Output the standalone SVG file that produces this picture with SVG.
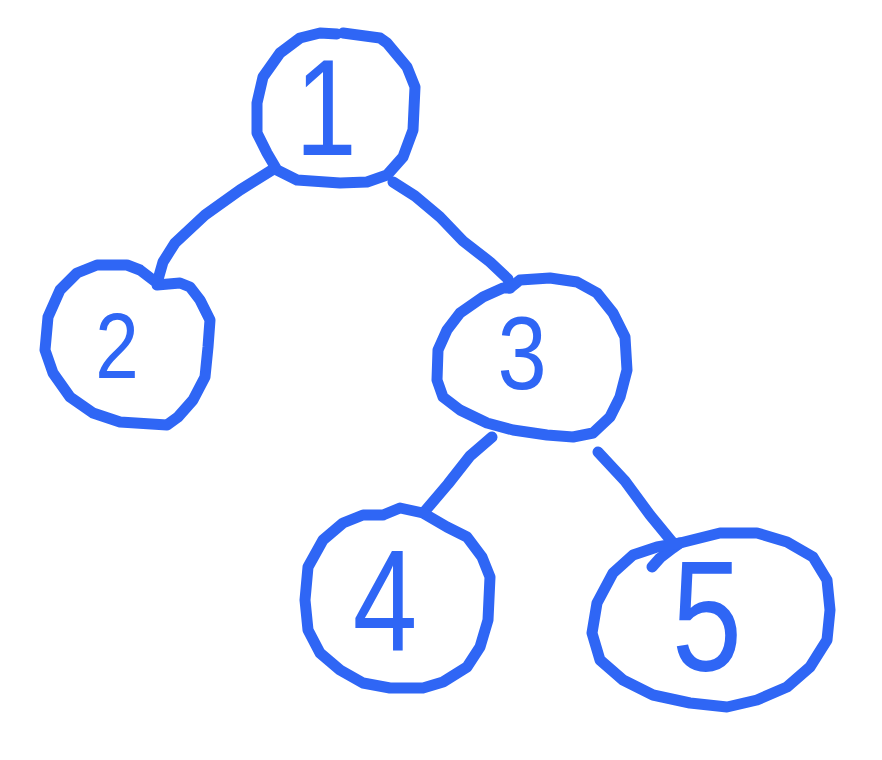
<svg xmlns="http://www.w3.org/2000/svg" width="882" height="760" viewBox="0 0 882 760">
<style>
.s{fill:none;stroke:#2f66f5;stroke-width:11;stroke-linecap:round;stroke-linejoin:round}
.t{fill:#2f66f5;font-family:"Liberation Sans",Arial,sans-serif;text-anchor:middle}
</style>
<rect width="882" height="760" fill="#ffffff"/>
<g id="connectors">
<polyline class="s" points="272,170 240,190 205,215 175,243 163,262 157,283"/>
<polyline class="s" points="393,182 415,196 440,217 463,241 490,262 508,279 510,288"/>
<polyline class="s" points="492,437 470,456 448,484 425,511"/>
<polyline class="s" points="598,452 625,481 650,515 673,543"/>
<polyline class="s" points="652,567 660,558 673,548 680,543"/>
</g>
<g id="node1">
<polyline class="s" points="337,34 320,33 300,38 280,53 263,77 257,103 257,133 267,153 277,170 297,180 340,183 367,182 387,175 403,157 413,130 415,87 407,67 387,43 380,38 343,33"/>
<text class="t" transform="translate(326,0) scale(0.8,1)" x="0" y="155" font-size="138">1</text>
</g>
<g id="node2">
<polyline class="s" points="157,283 140,270 127,265 97,265 77,273 60,290 48,317 45,350 53,373 70,397 93,413 120,422 167,425 178,417 193,400 205,377 208,347 210,320 200,300 190,287 180,283 157,285"/>
<text class="t" transform="translate(117,0) scale(0.85,1)" x="0" y="378" font-size="92">2</text>
</g>
<g id="node3">
<polyline class="s" points="510,288 520,280 550,278 577,282 597,293 613,313 625,337 627,370 620,397 610,417 593,433 573,437 547,435 513,430 487,423 460,410 443,397 437,380 438,350 447,330 460,313 483,297 503,288 510,288"/>
<text class="t" transform="translate(522,0) scale(0.85,1)" x="0" y="389" font-size="104">3</text>
</g>
<g id="node4">
<polyline class="s" points="383,515 400,508 423,513 447,527 467,537 482,557 490,577 488,620 480,647 467,667 443,682 423,688 390,688 363,683 340,670 320,653 308,630 305,600 308,567 323,540 343,523 363,515 383,515"/>
<text class="t" transform="translate(385,0) scale(0.8,1)" x="0" y="651" font-size="145">4</text>
</g>
<g id="node5">
<polyline class="s" points="680,543 720,533 757,533 787,542 813,557 827,580 830,610 827,640 810,667 787,687 757,700 727,707 690,703 653,695 623,680 600,660 592,633 597,603 613,573 633,555 657,547 680,543"/>
<text class="t" transform="translate(707,0) scale(0.8,1)" x="0" y="670" font-size="158">5</text>
</g>
</svg>
